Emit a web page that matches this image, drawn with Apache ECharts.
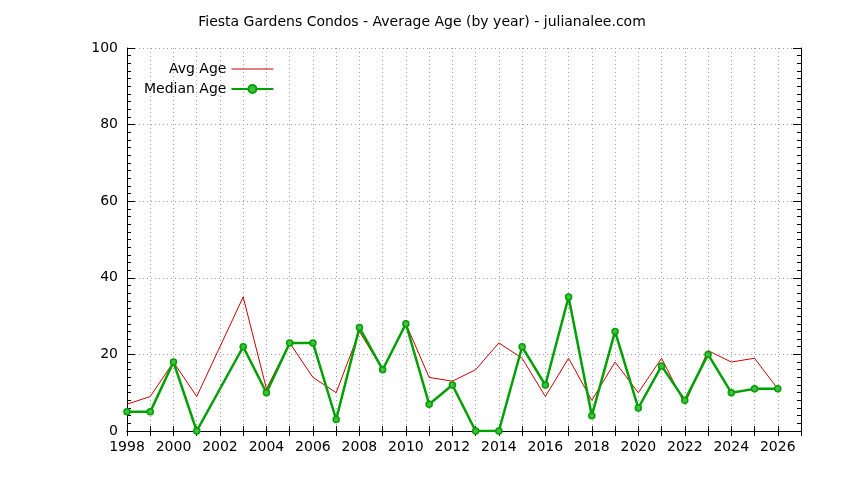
<!DOCTYPE html>
<html>
<head>
<meta charset="utf-8">
<script src="https://cdn.jsdelivr.net/npm/echarts@6/dist/echarts.min.js"></script>
<style>html,body{margin:0;padding:0;background:#fff}#c{width:844px;height:480px}</style>
</head>
<body>
<div id="c"></div>
<script>
const years = [1998,1999,2000,2001,2003,2004,2005,2006,2007,2008,2009,2010,2011,2012,2013,2014,2015,2016,2017,2018,2019,2020,2021,2022,2023,2024,2025,2026];
const avgAge = [7,9,18,9,35,11,23,14,10,26,16,28,14,13,16,23,19,9,19,8,18,10,19,7,21,18,19,11];
const medianAge = [5,5,18,0,22,10,23,23,3,27,16,28,7,12,0,0,22,12,35,4,26,6,17,8,20,10,11,11];
const yTicks = [0,20,40,60,80,100];

const font = 'DejaVu Sans';
const chart = echarts.init(document.getElementById('c'));
const axisLine = {show:true, lineStyle:{color:'#000', width:1}};
const grid = {left:127, right:43, top:48, bottom:49};
chart.setOption({
  animation:false,
  title:{text:'Fiesta Gardens Condos - Average Age (by year) - julianalee.com', left:'center', top:10,
    textStyle:{fontFamily:font, fontSize:14, fontWeight:'normal', color:'#000'}},
  legend:{orient:'vertical', align:'right', left:139, top:57, itemWidth:42, itemHeight:10, itemGap:6,
    textStyle:{fontFamily:font, fontSize:14, color:'#000'},
    data:[{name:'Avg Age', icon:'path://M0,0 L42,0 L42,1 L0,1 Z'},{name:'Median Age'}]},
  grid:grid,
  xAxis:[{type:'value', min:1998, max:2027, interval:1, axisLine:axisLine,
      axisTick:{show:true, inside:true, length:5, lineStyle:{color:'#000'}},
      axisLabel:{fontFamily:font, fontSize:14, color:'#000', margin:9,
        formatter:v => (v % 2 === 0 && v <= 2026) ? String(v) : ''},
      splitLine:{show:true, lineStyle:{color:'#a0a0a0', type:[1,3], width:1}}},
    {type:'value', position:'top', min:1998, max:2027, interval:1, axisLine:axisLine,
      axisTick:{show:true, inside:true, length:5, lineStyle:{color:'#000'}},
      axisLabel:{show:false}, splitLine:{show:false}}],
  yAxis:[{type:'value', min:0, max:100, interval:20, axisLine:axisLine,
      axisTick:{show:true, inside:true, length:8, lineStyle:{color:'#000'}},
      minorTick:{show:true, splitNumber:10, length:4, lineStyle:{color:'#000'}},
      axisLabel:{fontFamily:font, fontSize:14, color:'#000', margin:9,
        formatter:v => yTicks.includes(v) ? String(v) : ''},
      splitLine:{show:true, lineStyle:{color:'#a0a0a0', type:[1,3], width:1}}},
    {type:'value', position:'right', min:0, max:100, interval:20, axisLine:axisLine,
      axisTick:{show:true, inside:true, length:8, lineStyle:{color:'#000'}},
      minorTick:{show:true, splitNumber:10, length:4, lineStyle:{color:'#000'}},
      axisLabel:{show:false}, splitLine:{show:false}}],
  series:[
    {name:'Avg Age', type:'line', data:years.map((y,i)=>[y,avgAge[i]]), showSymbol:false, symbol:'none',
      lineStyle:{color:'#cc0000', width:1}, itemStyle:{color:'#cc0000'}, z:2},
    {name:'Median Age', type:'line', data:years.map((y,i)=>[y,medianAge[i]]), symbol:'circle', symbolSize:6,
      lineStyle:{color:'#00a000', width:2.5}, itemStyle:{color:'#40c040', borderColor:'#00a000', borderWidth:1.5}, z:3}
  ]
});
</script>
</body>
</html>
